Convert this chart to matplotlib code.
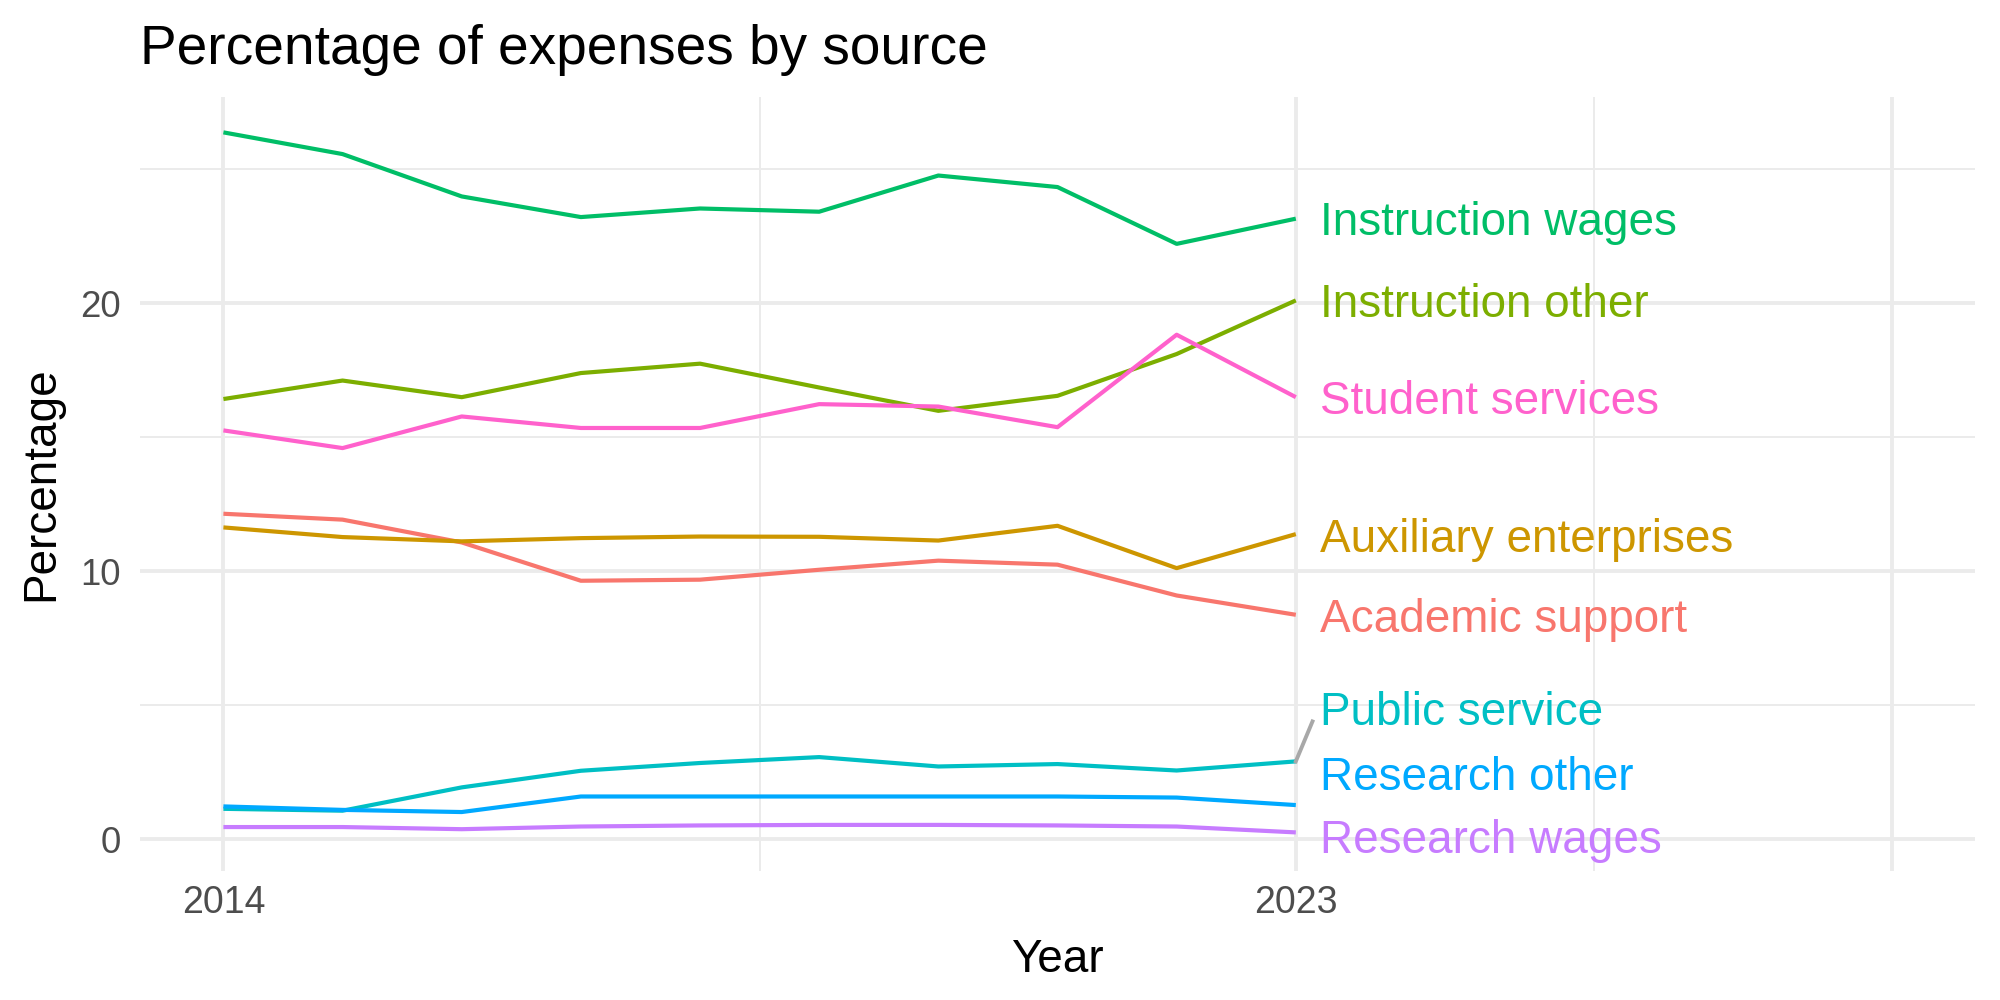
import matplotlib
matplotlib.use('Agg')
import matplotlib.pyplot as plt
import matplotlib.transforms as mtransforms

years = list(range(2014, 2024))

academic_support      = [12.14, 11.92, 11.07, 9.64, 9.68, 10.05, 10.39, 10.24, 9.09, 8.37]
auxiliary_enterprises = [11.63, 11.27, 11.11, 11.23, 11.29, 11.28, 11.14, 11.69, 10.11, 11.38]
instruction_other     = [16.42, 17.11, 16.49, 17.39, 17.74, 16.85, 15.98, 16.54, 18.10, 20.10]
instruction_wages     = [26.37, 25.56, 23.98, 23.21, 23.53, 23.41, 24.76, 24.33, 22.21, 23.15]
public_service        = [1.13, 1.06, 1.93, 2.55, 2.84, 3.06, 2.71, 2.80, 2.56, 2.90]
research_other        = [1.22, 1.09, 1.01, 1.59, 1.59, 1.59, 1.59, 1.59, 1.55, 1.27]
research_wages        = [0.45, 0.45, 0.37, 0.47, 0.51, 0.53, 0.53, 0.51, 0.47, 0.25]
student_services      = [15.25, 14.59, 15.77, 15.34, 15.34, 16.23, 16.14, 15.37, 18.82, 16.49]

names  = ['Academic support', 'Auxiliary enterprises', 'Instruction other', 'Instruction wages',
          'Public service', 'Research other', 'Research wages', 'Student services']
series = [academic_support, auxiliary_enterprises, instruction_other, instruction_wages,
          public_service, research_other, research_wages, student_services]
colors = ['#F8766D', '#CD9600', '#7CAE00', '#00BE67', '#00BFC4', '#00A9FF', '#C77CFF', '#FF61CC']

# where the (repelled) labels end up
label_y = [8.33, 11.34, 20.1, 23.16, 4.87, 2.45, 0.11, 16.47]

plt.rcParams['font.family'] = ['Liberation Sans', 'DejaVu Sans']

LAB_FS = 16.5

fig = plt.figure(figsize=(10, 5), dpi=200)
ax  = fig.add_axes([0.07, 0.129, 0.9175, 0.774])

##################### grid  ########################
ax.set_xlim(2013.3, 2028.7)
ax.set_ylim(-1.19, 27.69)
ax.set_xticks([2014, 2023, 2028])
ax.set_xticklabels(['2014', '2023', ''])
ax.set_xticks([2018.5, 2025.5], minor=True)
ax.set_yticks([0, 10, 20])
ax.set_yticks([5, 15, 25], minor=True)
ax.grid(which='major', color='#EBEBEB', lw=1.4)
ax.grid(which='minor', color='#EBEBEB', lw=0.7)
ax.set_axisbelow(True)
for s in ax.spines.values(): s.set_visible(False)
ax.tick_params(which='both', length=0)
ax.tick_params(axis='x', labelsize=13.5, labelcolor='#4D4D4D', pad=5)
ax.tick_params(axis='y', labelsize=13.2, labelcolor='#4D4D4D', pad=7)

##################### lines + labels ########################
lab_trans = mtransforms.offset_copy(ax.transData, fig=fig, y=-0.358*LAB_FS, units='points')
for name, vals, c, ly in zip(names, series, colors, label_y):
	ax.plot(years, vals, color=c, lw=1.5, solid_capstyle='butt')
	ax.text(2023.2, ly, name, color=c, fontsize=LAB_FS, ha='left', va='baseline', transform=lab_trans)

# connector for the label that got pushed away
ax.plot([years[-1], 2023.14], [public_service[-1], 4.39], color='#A8A8A8', lw=1.4)

ax.set_xlabel('Year', fontsize=16.5, labelpad=6)
ax.set_ylabel('Percentage', fontsize=16.5, labelpad=6)
ax.set_title('Percentage of expenses by source', fontsize=19.8, loc='left', pad=12)

fig.savefig('out.png', dpi=200)
